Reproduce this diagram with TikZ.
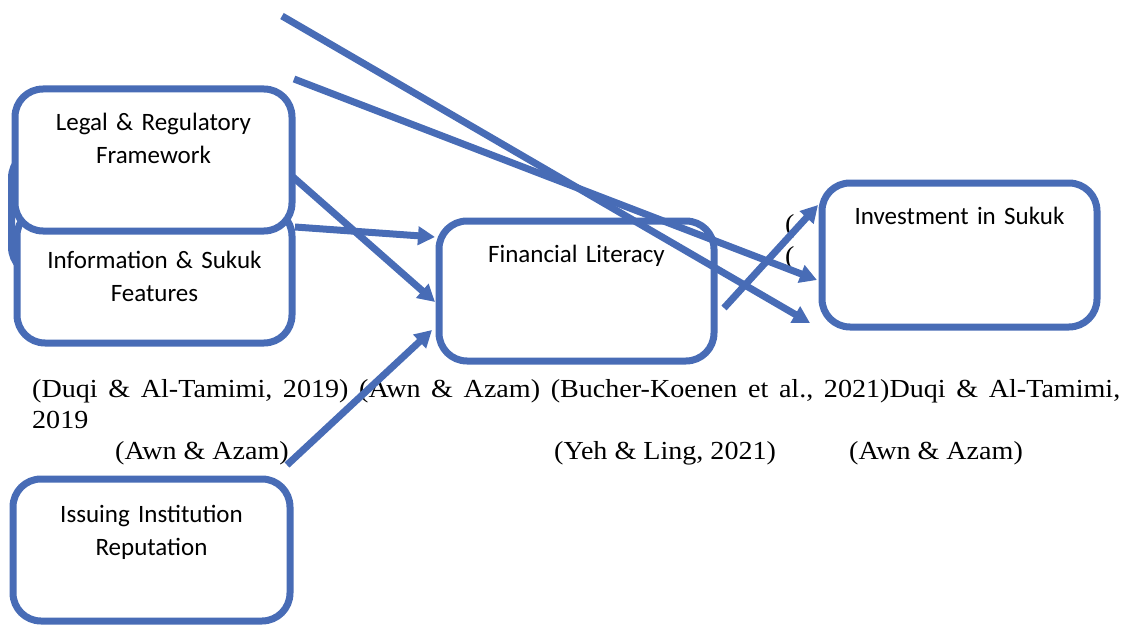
\documentclass[tikz,border=0pt]{standalone}
\usepackage{fontspec}
\setmainfont{Liberation Serif}
\newfontfamily\citefont[FakeStretch=1.08]{Liberation Serif}
\newfontfamily\boxfont{Carlito}
\usetikzlibrary{arrows.meta,calc}
\definecolor{shapeblue}{RGB}{72,108,182}
\begin{document}
\begin{tikzpicture}[x=1pt,y=-1pt,
  box/.style={draw=shapeblue, line width=7pt, rounded corners=28pt, fill=white,
    inner sep=0pt, outer sep=0pt, align=center, anchor=north west,
    font=\boxfont\fontsize{25}{33}\selectfont},
  link/.style={draw=shapeblue, line width=7pt,
    -{Triangle[length=17pt,width=18pt]}},
  cite/.style={inner sep=0pt, anchor=base west,
    font=\citefont\fontsize{26}{31}\selectfont\frenchspacing}]
\useasboundingbox (0,0) rectangle (1125,626);

% boxes (stacked ones on the left drawn back to front)
\node[box, minimum width=274pt, minimum height=125pt] (back) at (11.5,150) {};
\node[box, text width=275pt, text height=60pt, text depth=75pt] (info) at (17,208)
  {Information \& Sukuk\\Features};
\node[box, text width=277pt, text height=41pt, text depth=101pt] (legal) at (15,89)
  {Legal \& Regulatory\\Framework};
\node[box, text width=275pt, text height=41pt, text depth=99pt] (fl) at (439,221)
  {Financial Literacy};
\node[box, text width=275pt, text height=41pt, text depth=103pt] (inv) at (822,183)
  {Investment in Sukuk};
\node[box, text width=277pt, text height=43pt, text depth=99pt] (issue) at (13,479)
  {Issuing Institution\\Reputation};

% citations
\node[cite] (c1) at (32,397) {\makebox[1088pt][s]{(Duqi \& Al-Tamimi, 2019) (Awn \& Azam) (Bucher-Koenen et al., 2021)Duqi \& Al-Tamimi,}};
\node[cite] (c2) at (32,428) {2019};
\node[cite] (c3) at (115,459) {(Awn \& Azam)};
\node[cite] (c4) at (554,459) {(Yeh \& Ling, 2021)};
\node[cite] (c5) at (849,459) {(Awn \& Azam)};
\node[cite] (p1) at (785,232) {(};
\node[cite] (p2) at (785,264) {(};

% connectors
\coordinate (src1) at (282,16);
\coordinate (src2) at (294,79);
\draw[link] (src1) -- ($(inv.west)+(-12,68)$);
\draw[link] (src2) -- ($(inv.west)+(-5,25)$);
\draw[link] ($(legal.east)+(1,17)$) -- ($(fl.west)+(-4,11)$);
\draw[link] ($(legal.east)+(3,67)$) -- ($(fl.west)+(-4,-54)$);
\draw[link] ($(issue.north east)+(-3,-14)$) -- ($(fl.west)+(-7,39)$);
\draw[link] ($(fl.east)+(10,17)$) -- ($(inv.west)+(-4,-50)$);
\end{tikzpicture}
\end{document}
